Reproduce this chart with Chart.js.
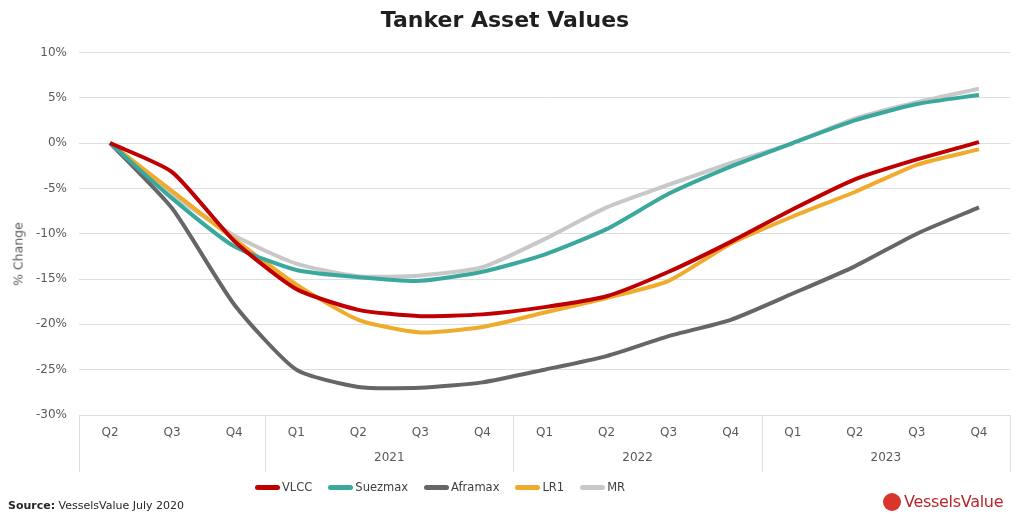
<!DOCTYPE html>
<html>
<head>
<meta charset="utf-8">
<script src="https://cdn.jsdelivr.net/npm/chart.js@4/dist/chart.umd.min.js"></script>
<style>
  html, body { margin: 0; padding: 0; background: #ffffff; }
  #wrap { position: relative; width: 1024px; height: 519px; overflow: hidden; font-family: "DejaVu Sans", Verdana, sans-serif; }
  #c { position: absolute; left: 0; top: 0; }
  #legend { position: absolute; left: 255px; top: 480px; display: flex; align-items: center; font-size: 11.5px; color: #404040; }
  #legend .item { display: flex; align-items: center; margin-right: 16px; }
  #legend .sw { width: 25px; height: 5px; border-radius: 3px; margin-right: 2px; }
  #source { position: absolute; left: 8px; top: 499px; font-size: 11px; color: #262626; }
  #logo { position: absolute; left: 883px; top: 492px; display: flex; align-items: center; font-size: 16px; color: #b8262c; letter-spacing: -0.3px; }
  #logo .dot { width: 18px; height: 18px; border-radius: 50%; background: #d9352b; margin-right: 3px; }
  #ytitle { position: absolute; left: 18px; top: 254px; transform: translate(-50%, -50%) rotate(-90deg); font-size: 12.5px; color: #595959; white-space: nowrap; }
</style>
</head>
<body>
<div id="wrap">
  <canvas id="c" width="1024" height="519"></canvas>
  <div id="ytitle">% Change</div>
  <div id="legend"></div>
  <div id="source"><b>Source:</b> VesselsValue July 2020</div>
  <div id="logo"><span class="dot"></span><span>VesselsValue</span></div>
</div>
<script>
// ---- data ----
const quarters = ['Q2','Q3','Q4','Q1','Q2','Q3','Q4','Q1','Q2','Q3','Q4','Q1','Q2','Q3','Q4'];
const years    = ['','','','2021','2021','2021','2021','2022','2022','2022','2022','2023','2023','2023','2023'];
const yTicks   = [10, 5, 0, -5, -10, -15, -20, -25, -30];

const seriesNames = ['VLCC', 'Suezmax', 'Aframax', 'LR1', 'MR'];
const vlcc    = [0, -3.2, -10.8, -16.1, -18.4, -19.1, -18.9, -18.1, -16.9, -14.2, -10.9, -7.3, -4.0, -1.8, 0.1];
const suezmax = [0, -6.1, -11.4, -14.0, -14.8, -15.2, -14.2, -12.3, -9.5, -5.6, -2.6, 0.0, 2.5, 4.3, 5.3];
const aframax = [0, -7.2, -17.8, -25.0, -26.9, -27.0, -26.4, -25.0, -23.5, -21.3, -19.5, -16.6, -13.6, -10.0, -7.1];
const lr1     = [0, -5.3, -10.6, -15.6, -19.5, -20.9, -20.3, -18.7, -17.1, -15.2, -11.1, -8.1, -5.4, -2.4, -0.7];
const mr      = [0, -5.7, -10.2, -13.3, -14.7, -14.6, -13.7, -10.6, -7.1, -4.6, -2.2, 0.0, 2.7, 4.5, 6.0];
const seriesValues = [vlcc, suezmax, aframax, lr1, mr];
const seriesColors = ['#c00000', '#3aa89c', '#666666', '#f0ab2c', '#c8c8c8'];

// ---- year groups from the years array ----
const groups = [];
years.forEach((y, i) => {
  if (groups.length && groups[groups.length - 1].label === y) groups[groups.length - 1].end = i;
  else groups.push({ label: y, start: i, end: i });
});
const groupCenters = groups.filter(g => g.label).map(g => ({ v: (g.start + g.end) / 2, label: g.label }));
const groupBounds = [-0.5].concat(groups.map(g => g.end + 0.5));

const FONT = '"DejaVu Sans", Verdana, sans-serif';
const TXT = '#595959';
const GRID = '#dedede';

const separators = {
  id: 'separators',
  afterDraw(chart) {
    const x2 = chart.scales.x2;
    const ctx = chart.ctx;
    ctx.save();
    ctx.strokeStyle = GRID;
    ctx.lineWidth = 1;
    groupBounds.forEach(b => {
      const px = Math.round(x2.getPixelForValue(b)) + 0.5;
      ctx.beginPath();
      ctx.moveTo(px, chart.chartArea.bottom);
      ctx.lineTo(px, x2.bottom);
      ctx.stroke();
    });
    ctx.restore();
  }
};

const chart = new Chart(document.getElementById('c'), {
  type: 'line',
  data: {
    labels: quarters,
    datasets: seriesNames.map((n, i) => ({
      label: n,
      data: seriesValues[i],
      borderColor: seriesColors[i],
      backgroundColor: seriesColors[i],
      borderWidth: 4,
      pointRadius: 0,
      tension: 0.2,
      xAxisID: 'x'
    }))
  },
  options: {
    responsive: false,
    animation: false,
    layout: { padding: { left: 0, right: 14, top: 8, bottom: 47 } },
    plugins: {
      legend: { display: false },
      tooltip: { enabled: false },
      title: {
        display: true,
        text: 'Tanker Asset Values',
        color: '#1f1f1f',
        font: { family: FONT, size: 22, weight: 'bold' },
        padding: { top: 0, bottom: 18 }
      }
    },
    scales: {
      y: {
        min: -30, max: 10,
        afterBuildTicks(s) { s.ticks = yTicks.map(v => ({ value: v })); },
        afterFit(s) { s.width = 79; },
        ticks: { callback: v => v + '%', color: TXT, font: { family: FONT, size: 12 }, padding: 12 },
        grid: { color: GRID, drawTicks: false },
        border: { display: false }
      },
      x: {
        type: 'category',
        position: 'bottom',
        offset: true,
        afterFit(s) { s.height = 34; },
        ticks: { color: TXT, font: { family: FONT, size: 12 }, padding: 11, maxRotation: 0, autoSkip: false },
        grid: { display: false, drawTicks: false },
        border: { display: true, color: GRID }
      },
      x2: {
        type: 'linear',
        position: 'bottom',
        min: -0.5, max: quarters.length - 0.5,
        afterBuildTicks(s) { s.ticks = groupCenters.map(g => ({ value: g.v })); },
        afterFit(s) { s.height = 23; },
        ticks: {
          callback: (v) => { const g = groupCenters.find(c => Math.abs(c.v - v) < 1e-6); return g ? g.label : ''; },
          color: TXT, font: { family: FONT, size: 12 }, padding: 2, maxRotation: 0, autoSkip: false
        },
        grid: { display: false, drawTicks: false },
        border: { display: false }
      }
    }
  },
  plugins: [separators]
});

// ---- HTML legend built from the datasets ----
const lg = document.getElementById('legend');
chart.data.datasets.forEach(ds => {
  const it = document.createElement('div');
  it.className = 'item';
  const sw = document.createElement('span');
  sw.className = 'sw';
  sw.style.background = ds.borderColor;
  const t = document.createElement('span');
  t.textContent = ds.label;
  it.appendChild(sw); it.appendChild(t);
  lg.appendChild(it);
});
</script>
</body>
</html>
